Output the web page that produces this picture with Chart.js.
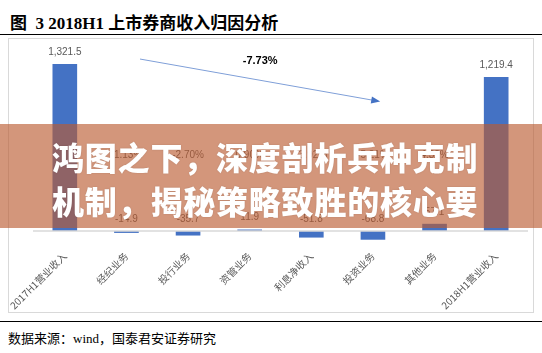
<!DOCTYPE html>
<html>
<head>
<meta charset="utf-8">
<script src="https://cdn.jsdelivr.net/npm/chart.js@4"></script>
<style>
  body { margin: 0; width: 542px; height: 353px; background: #fff; position: relative; overflow: hidden; }
  #title { position: absolute; left: 10px; top: 9px; font: bold 17px "Liberation Serif", "Noto Sans CJK SC"; color: #000; white-space: nowrap; }
  .rule { position: absolute; left: 0; width: 542px; height: 1px; background: #000; }
  #box { position: absolute; left: 8px; top: 38px; width: 524px; height: 273px; border: 1px solid #d9d9d9; }
  #foot { position: absolute; left: 8px; top: 328px; font: 13px "Liberation Serif", "Noto Sans CJK SC"; color: #000; white-space: nowrap; }
  #banner { position: absolute; left: 0; top: 124px; width: 542px; height: 104px; background: rgba(186, 90, 48, 0.64); }
  #bannerText { position: absolute; left: 52px; top: 134px; font: 900 32px "Noto Sans CJK SC"; line-height: 44px; letter-spacing: 0.8px; color: #fff; white-space: nowrap; text-shadow: 0 0 2px rgba(0,0,0,0.15); }
</style>
</head>
<body>
<div id="title">图&nbsp;&nbsp;3 2018H1 上市券商收入归因分析</div>
<div class="rule" style="top:34px"></div>
<div id="box"><canvas id="myChart" width="524" height="273"></canvas></div>
<div class="rule" style="top:321px"></div>
<div id="foot">数据来源：wind，国泰君安证券研究</div>
<div id="banner"></div>
<div id="bannerText">鸿图之下，深度剖析兵种克制<br>机制，揭秘策略致胜的核心要</div>
<script>
var categories = ["2017H1营业收入", "经纪业务", "投行业务", "资管业务", "利息净收入", "投资业务", "其他业务", "2018H1营业收入"];
var values = [1321.5, -14.9, -35.7, 11.9, -51.8, -68.8, 57.1, 1219.4];
var pctLabels = ["", "-1.13%", "-2.70%", "0.90%", "-3.92%", "-5.21%", "4.32%", ""];
var changeLabel = "-7.73%";

var extras = {
    id: "extras",
    afterDatasetsDraw: function (chart) {
        var c = chart.ctx;
        var x = chart.scales.x;
        var y = chart.scales.y;
        var zero = y.getPixelForValue(0);
        c.save();
        // zero line
        c.strokeStyle = "#d9d9d9";
        c.lineWidth = 1.5;
        c.beginPath();
        c.moveTo(x.left - 1, zero);
        c.lineTo(x.right + 1, zero);
        c.stroke();

        // value labels
        c.fillStyle = "#595959";
        c.font = "10px 'Liberation Sans'";
        c.textAlign = "center";
        c.textBaseline = "middle";
        var meta = chart.getDatasetMeta(0);
        meta.data.forEach(function (bar, i) {
            var top = Math.min(bar.y, zero);
            var txt = values[i].toLocaleString("en-US", { minimumFractionDigits: 1 });
            c.fillText(txt, bar.x, top - 12);
            if (pctLabels[i]) {
                c.fillText(pctLabels[i], bar.x, y.getPixelForValue(600));
            }
        });

        // arrow
        var x1 = x.getPixelForValue(1.22), y1 = y.getPixelForValue(1361);
        var x2 = x.getPixelForValue(5.07), y2 = y.getPixelForValue(1029);
        c.strokeStyle = "#7f9fd8";
        c.fillStyle = "#4472c4";
        c.lineWidth = 1;
        c.beginPath();
        c.moveTo(x1, y1);
        c.lineTo(x2, y2);
        c.stroke();
        var a = Math.atan2(y2 - y1, x2 - x1);
        c.beginPath();
        c.moveTo(x2 + 3 * Math.cos(a), y2 + 3 * Math.sin(a));
        c.lineTo(x2 - 6 * Math.cos(a) - 3.5 * Math.sin(a), y2 - 6 * Math.sin(a) + 3.5 * Math.cos(a));
        c.lineTo(x2 - 6 * Math.cos(a) + 3.5 * Math.sin(a), y2 - 6 * Math.sin(a) - 3.5 * Math.cos(a));
        c.closePath();
        c.fill();

        c.fillStyle = "#000";
        c.font = "bold 11px 'Liberation Sans'";
        c.fillText(changeLabel, x.getPixelForValue(3.17), y.getPixelForValue(1345));
        c.restore();
    }
};

var ctx = document.getElementById("myChart").getContext("2d");
var myChart = new Chart(ctx, {
    type: "bar",
    data: {
        labels: categories,
        datasets: [{
            data: values,
            backgroundColor: "#4472c4",
            barPercentage: 0.4,
            categoryPercentage: 1
        }]
    },
    options: {
        responsive: false,
        animation: false,
        layout: { padding: { top: 5, left: 25, right: 6, bottom: 0 } },
        plugins: { legend: { display: false }, tooltip: { enabled: false } },
        scales: {
            x: {
                grid: { display: false },
                border: { display: false },
                ticks: {
                    color: "#595959",
                    font: { family: "'Noto Sans CJK SC'", size: 10 },
                    minRotation: 45,
                    maxRotation: 45,
                    padding: 2,
                    autoSkip: false
                },
                afterFit: function (s) {
                    s.height = 72;
                    s.paddingLeft = 0;
                    s.paddingRight = 0;
                }
            },
            y: {
                display: false,
                min: -71,
                max: 1480
            }
        }
    },
    plugins: [extras]
});
</script>
</body>
</html>
